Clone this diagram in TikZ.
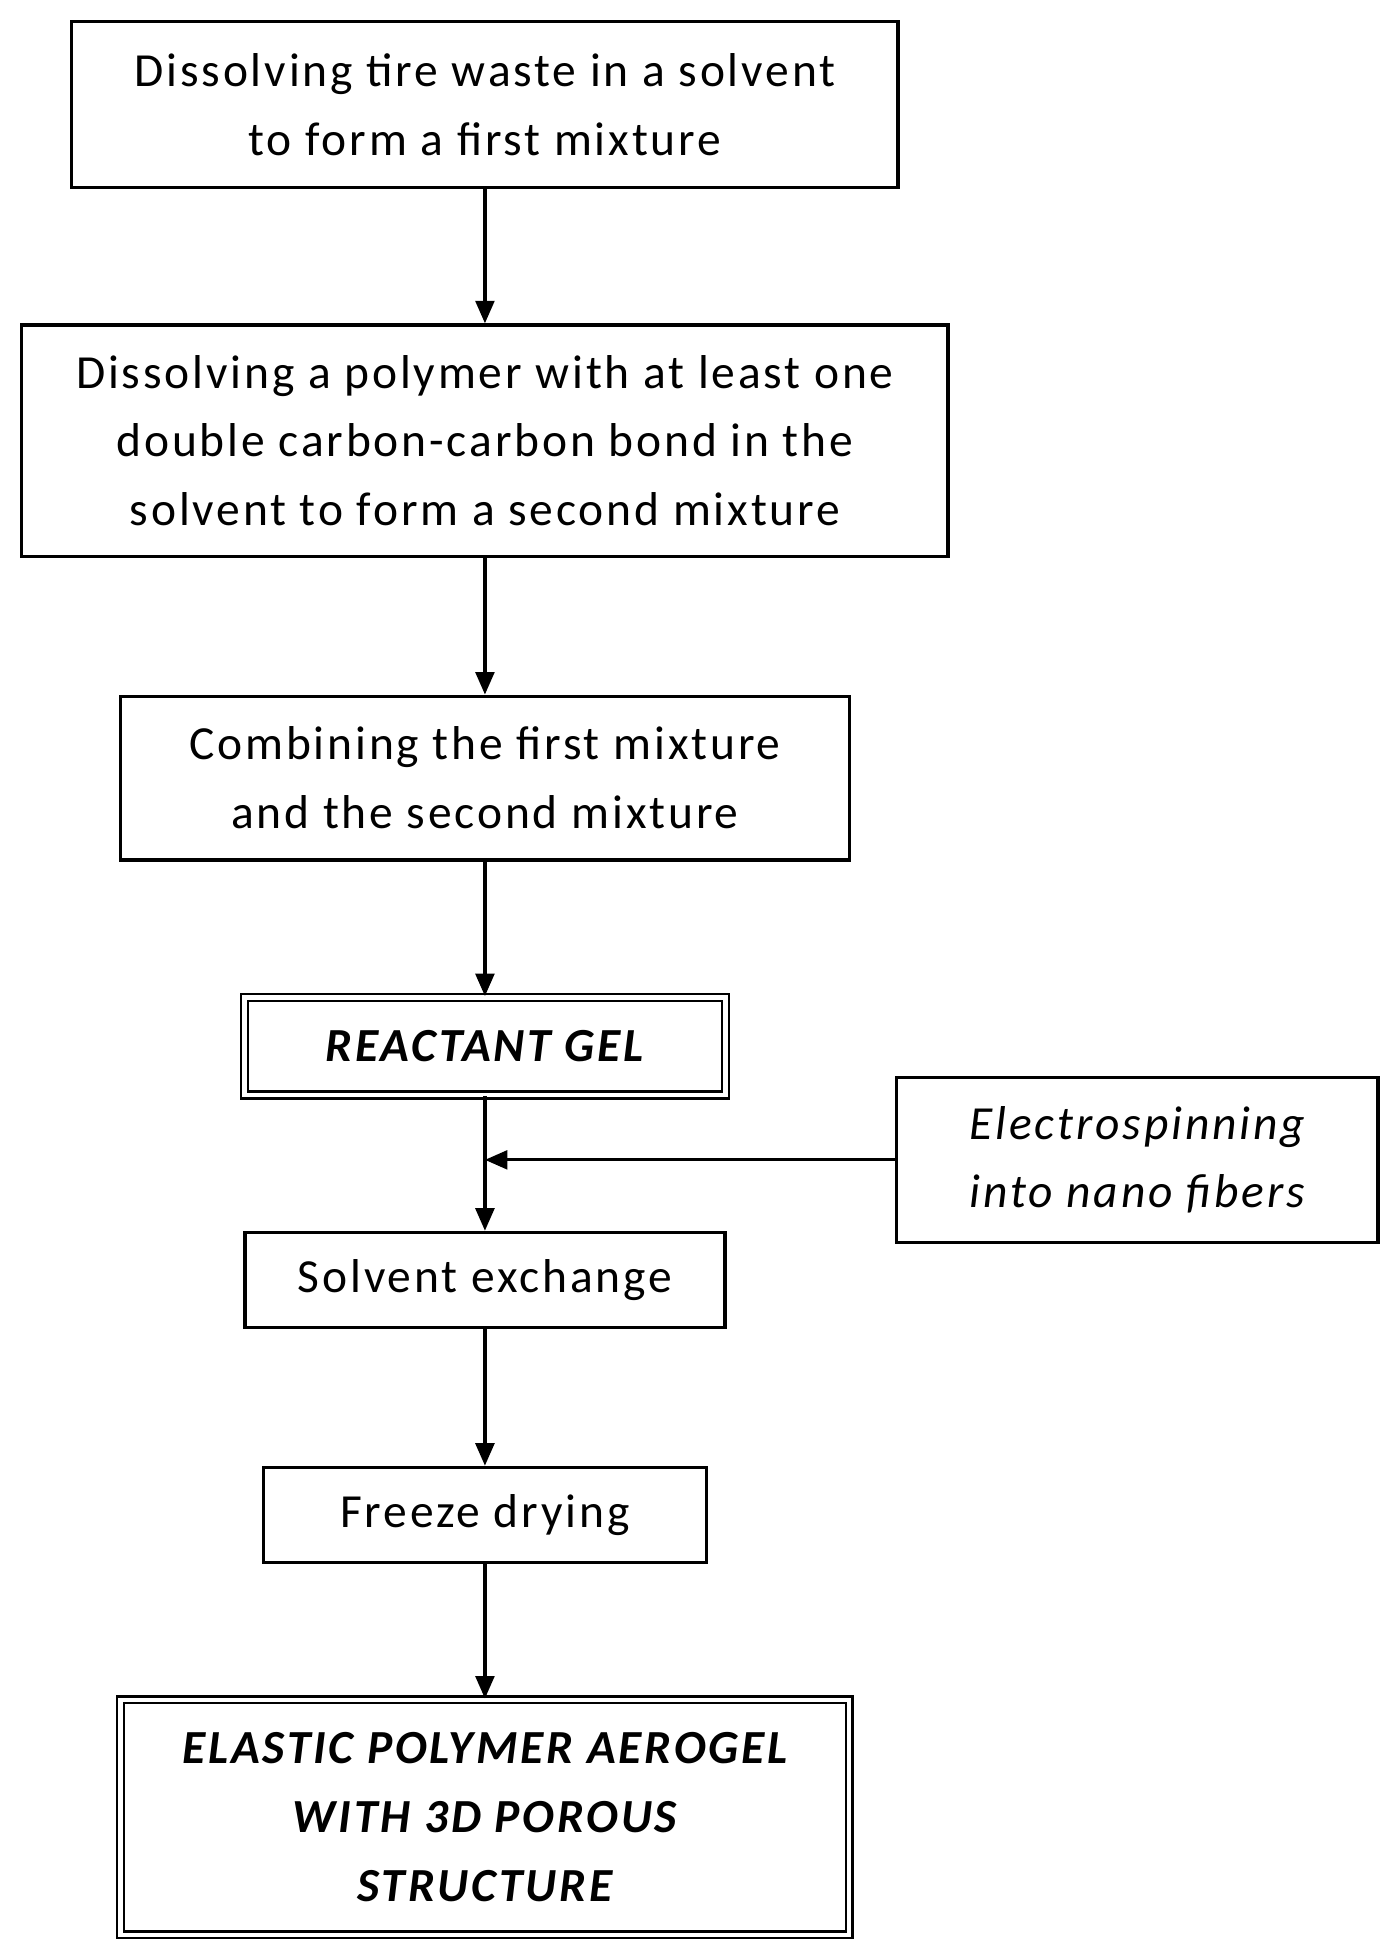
\documentclass[tikz,border=0pt]{standalone}
\usepackage{fontspec}
\setmainfont{Carlito}[LetterSpace=6]
\usetikzlibrary{arrows.meta}
\begin{document}
\begin{tikzpicture}[x=1pt,y=-1pt,
 box/.style={draw,line width=2.6pt,align=center,font=\fontsize{38}{55}\selectfont,inner sep=0pt},
 dbox/.style={box,double,line width=2pt,double distance=3.5pt,font=\fontsize{38}{55}\selectfont\bfseries\itshape},
 arr/.style={line width=2.6pt,-{Triangle[length=18pt,width=15pt]}}]
\useasboundingbox (0,0) rectangle (1110,1553);
\node[box,minimum width=661pt,minimum height=133pt] (a) at (388,83.5) {Dissolving tire waste in a solvent\\to form a first mixture};
\node[box,minimum width=741pt,minimum height=185pt] (b) at (388,352.5) {Dissolving a polymer with at least one\\double carbon-carbon bond in the\\solvent to form a second mixture};
\node[box,minimum width=583pt,minimum height=131pt] (c) at (388,622.5) {Combining the first mixture\\and the second mixture};
\node[dbox,minimum width=385pt,minimum height=78pt] (d) at (388,837) {REACTANT GEL};
\node[box,font=\fontsize{38}{55}\selectfont\itshape,minimum width=385pt,minimum height=132pt] (e) at (910,928) {Electrospinning\\into nano fibers};
\node[box,minimum width=384pt,minimum height=76pt] (f) at (388,1024) {Solvent exchange};
\node[box,minimum width=354pt,minimum height=76pt] (g) at (388,1212) {Freeze drying};
\node[dbox,minimum width=583pt,minimum height=188pt] (h) at (388,1454) {ELASTIC POLYMER AEROGEL\\WITH 3D POROUS\\STRUCTURE};
\coordinate (j) at (388,928);
\draw[arr] (a) -- (b);
\draw[arr] (b) -- (c);
\draw[arr] (c) -- (d);
\draw[arr] (d) -- (f);
\draw[arr] (e.west) -- (j);
\draw[arr] (f) -- (g);
\draw[arr] (g) -- (h);
\end{tikzpicture}
\end{document}
